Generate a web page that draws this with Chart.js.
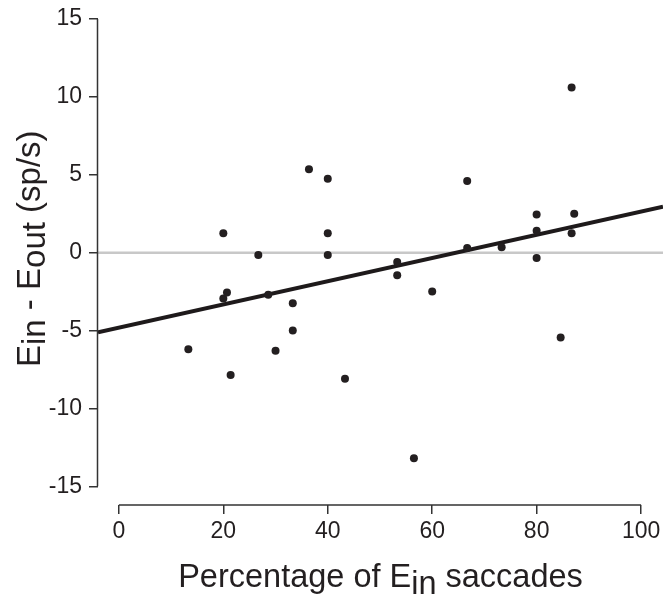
<!DOCTYPE html>
<html>
<head>
<meta charset="utf-8">
<script src="https://cdn.jsdelivr.net/npm/chart.js@4.4.1/dist/chart.umd.min.js"></script>
<style>
html,body{margin:0;padding:0;background:#fff;}
#wrap{width:663px;height:596px;}
</style>
</head>
<body>
<div id="wrap"><canvas id="chScatter" width="663" height="596"></canvas></div>
<script>
// percentage of Ein saccades vs. firing rate difference
var pctIn = [13.3, 20.0, 20.0, 20.7, 21.4, 26.7, 28.6, 30.0, 33.3, 33.3, 36.4, 40.0, 40.0, 40.0, 43.3,
             53.3, 53.3, 56.5, 60.0, 66.7, 66.7, 73.3, 80.0, 80.0, 80.0, 84.6, 86.7, 86.7, 87.2];
var diffRate = [-6.2, 1.25, -2.95, -2.55, -7.85, -0.15, -2.7, -6.3, -3.25, -5.0, 5.35, 4.75, 1.25, -0.15, -8.1,
                -0.6, -1.45, -13.2, -2.5, 4.6, 0.3, 0.35, 2.45, 1.4, -0.35, -5.45, 10.6, 1.25, 2.5];
var fitSlope = 0.0745;
var fitIntercept = -4.82;
var xRange = [-4, 104.2];
var yRange = [-16.2, 15];
var xTicks = [0, 20, 40, 60, 80, 100];
var yTicks = [-15, -10, -5, 0, 5, 10, 15];

var ink = '#231f20';
var fontFam = '"Liberation Sans", Arial, Helvetica, sans-serif';

var points = pctIn.map(function(x, i){ return {x: x, y: diffRate[i]}; });
var fitLine = xRange.map(function(x){ return {x: x, y: fitIntercept + fitSlope * x}; });
var zeroLine = xRange.map(function(x){ return {x: x, y: 0}; });

// axis lines that stop at the first/last tick, plus titles with lowered "in"/"out"
var axesPlugin = {
  id: 'axesPlugin',
  afterDraw: function(chart){
    var ctx = chart.ctx, xs = chart.scales.x, ys = chart.scales.y;
    var area = chart.chartArea;
    ctx.save();
    ctx.strokeStyle = '#333';
    ctx.lineWidth = 1.5;
    ctx.beginPath();
    ctx.moveTo(area.left - 0.5, ys.getPixelForValue(yTicks[yTicks.length - 1]));
    ctx.lineTo(area.left - 0.5, ys.getPixelForValue(yTicks[0]));
    ctx.moveTo(xs.getPixelForValue(xTicks[0]), area.bottom);
    ctx.lineTo(xs.getPixelForValue(xTicks[xTicks.length - 1]), area.bottom);
    ctx.stroke();

    ctx.fillStyle = ink;
    ctx.font = '32.5px ' + fontFam;
    ctx.textBaseline = 'alphabetic';
    ctx.textAlign = 'left';

    // x title
    var parts = [['Percentage of E', 0], ['in', 6.5], [' saccades', 0]];
    var total = 0;
    parts.forEach(function(p){ total += ctx.measureText(p[0]).width; });
    var cx = 380.5 - total / 2;
    parts.forEach(function(p){
      ctx.fillText(p[0], cx, 587 + p[1]);
      cx += ctx.measureText(p[0]).width;
    });

    // y title
    ctx.font = '33px ' + fontFam;
    ctx.translate(40, 367);
    ctx.rotate(-Math.PI / 2);
    var yparts = [['E', 0], ['in', 4.5], [' - E', 0], ['out', 4.5], [' (sp/s)', 0]];
    var px = 0;
    yparts.forEach(function(p){
      ctx.fillText(p[0], px, p[1]);
      px += ctx.measureText(p[0]).width;
    });
    ctx.restore();
  }
};

new Chart(document.getElementById('chScatter'), {
  type: 'scatter',
  data: {
    datasets: [
      {
        data: points,
        backgroundColor: ink,
        borderWidth: 0,
        pointRadius: 4,
        order: 1
      },
      {
        type: 'line',
        data: fitLine,
        borderColor: '#1e1a1b',
        borderWidth: 4,
        pointRadius: 0,
        fill: false,
        order: 2
      },
      {
        type: 'line',
        data: zeroLine,
        borderColor: '#c8c8c8',
        borderWidth: 2.5,
        pointRadius: 0,
        fill: false,
        order: 3
      }
    ]
  },
  options: {
    responsive: false,
    animation: false,
    devicePixelRatio: 1,
    layout: {autoPadding: false, padding: {top: 19, left: 0, right: 0, bottom: 0}},
    plugins: {legend: {display: false}, tooltip: {enabled: false}},
    scales: {
      x: {
        type: 'linear',
        min: xRange[0],
        max: xRange[1],
        afterBuildTicks: function(s){ s.ticks = xTicks.map(function(v){ return {value: v}; }); },
        afterFit: function(s){ s.height = 91; s.paddingLeft = 0; s.paddingRight = 0; },
        border: {display: false},
        grid: {drawOnChartArea: false, drawTicks: true, tickLength: 9, color: '#333', lineWidth: 1.5},
        ticks: {font: {family: fontFam, size: 23, lineHeight: 1}, color: ink, padding: 6, maxRotation: 0, autoSkip: false}
      },
      y: {
        min: yRange[0],
        max: yRange[1],
        afterBuildTicks: function(s){ s.ticks = yTicks.map(function(v){ return {value: v}; }); },
        afterFit: function(s){ s.width = 98; s.paddingTop = 0; s.paddingBottom = 0; },
        border: {display: false},
        grid: {drawOnChartArea: false, drawTicks: true, tickLength: 9, color: '#333', lineWidth: 1.5},
        ticks: {font: {family: fontFam, size: 23, lineHeight: 1}, color: ink, padding: 7, autoSkip: false}
      }
    }
  },
  plugins: [axesPlugin]
});
</script>
</body>
</html>
